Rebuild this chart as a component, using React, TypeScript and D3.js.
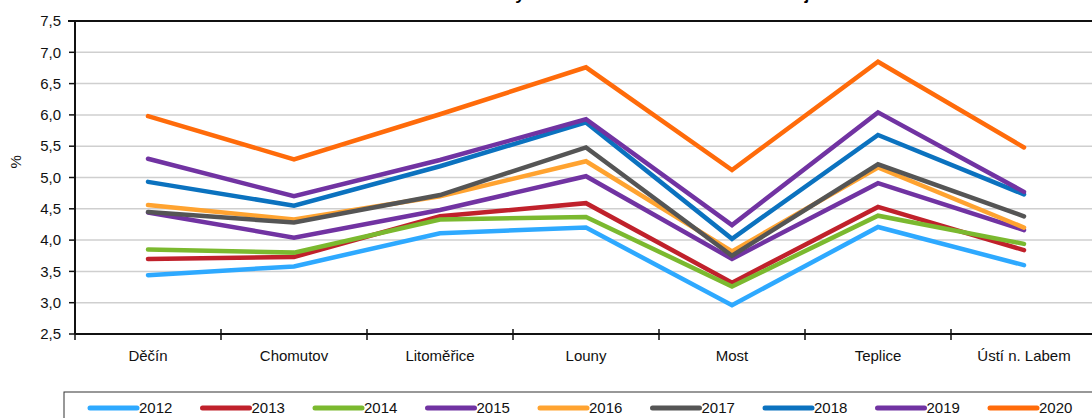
import React from 'react';
import * as d3 from 'd3';

const districts = ['Děčín', 'Chomutov', 'Litoměřice', 'Louny', 'Most', 'Teplice', 'Ústí n. Labem'];
const years = ['2012', '2013', '2014', '2015', '2016', '2017', '2018', '2019', '2020'];
const colors = ['#2EA9FF', '#C0212B', '#7BB92F', '#7133A2', '#FFA330', '#555555', '#0B72BF', '#7133A2', '#FF6B0A'];

const v2012 = [3.44, 3.58, 4.11, 4.20, 2.96, 4.21, 3.60];
const v2013 = [3.70, 3.73, 4.38, 4.59, 3.32, 4.53, 3.84];
const v2014 = [3.85, 3.80, 4.33, 4.37, 3.26, 4.39, 3.94];
const v2015 = [4.44, 4.04, 4.48, 5.02, 3.70, 4.91, 4.16];
const v2016 = [4.56, 4.33, 4.70, 5.26, 3.82, 5.16, 4.20];
const v2017 = [4.45, 4.28, 4.72, 5.48, 3.75, 5.21, 4.38];
const v2018 = [4.93, 4.55, 5.18, 5.88, 4.02, 5.68, 4.73];
const v2019 = [5.30, 4.70, 5.28, 5.93, 4.24, 6.04, 4.77];
const v2020 = [5.98, 5.29, 6.01, 6.76, 5.12, 6.85, 5.48];
const series = [v2012, v2013, v2014, v2015, v2016, v2017, v2018, v2019, v2020];

const yTicks = [2.5, 3, 3.5, 4, 4.5, 5, 5.5, 6, 6.5, 7, 7.5];

const W = 1092;
const H = 418;
const font = '"Liberation Sans", Arial, sans-serif';

export default function App() {
  // plot area runs past the right edge like in the original
  const x = d3.scaleBand().domain(districts).range([75, 1097]);
  const y = d3.scaleLinear().domain([2.5, 7.5]).range([334, 21]);
  const cx = (d: string) => (x(d) as number) + x.bandwidth() / 2;

  const line = d3.line<number>()
    .x((_, i) => cx(districts[i]))
    .y(v => y(v));

  const fmt = (v: number) => v.toFixed(1).replace('.', ',');
  const legendX = d3.scaleLinear().domain([0, 8]).range([90, 990]);

  return (
    <svg width={W} height={H} style={{ position: 'absolute', left: 0, top: 0, background: '#fff' }}>
      {/* title is cropped at the top in the original, only descenders show */}
      <text x={590} y={0} textAnchor="middle" fontFamily={font} fontSize={17} fontWeight="bold">
        Podíl nezaměstnaných osob v okresech Ústeckého kraje
      </text>

      {/* gridlines */}
      {yTicks.slice(1, -1).map(t => (
        <line key={t} x1={75} x2={W} y1={y(t)} y2={y(t)} stroke="#cfcfcf" strokeWidth={1.5} />
      ))}
      <line x1={68} x2={W} y1={y(7.5)} y2={y(7.5)} stroke="#111" strokeWidth={2} />

      {/* y axis */}
      <line x1={75} x2={75} y1={y(7.5)} y2={y(2.5)} stroke="#111" strokeWidth={2} />
      {yTicks.map(t => (
        <g key={t}>
          <line x1={69} x2={75} y1={y(t)} y2={y(t)} stroke="#111" strokeWidth={1.5} />
          <text x={61} y={y(t)} dy="0.35em" textAnchor="end" fontFamily={font} fontSize={15} fill="#111">
            {fmt(t)}
          </text>
        </g>
      ))}
      <text transform={`translate(21,${y(5.25)}) rotate(-90)`} textAnchor="middle" fontFamily={font} fontSize={15} fill="#111">
        %
      </text>

      {/* x axis */}
      <line x1={75} x2={W} y1={y(2.5)} y2={y(2.5)} stroke="#111" strokeWidth={2} />
      {districts.map(d => (
        <g key={d}>
          <line x1={x(d)} x2={x(d)} y1={y(2.5) - 5} y2={y(2.5) + 6} stroke="#111" strokeWidth={1.5} />
          <text x={cx(d)} y={356} dy="0.35em" textAnchor="middle" fontFamily={font} fontSize={15} fill="#111">
            {d}
          </text>
        </g>
      ))}

      {/* series */}
      {series.map((s, i) => (
        <path key={years[i]} d={line(s) || ''} fill="none" stroke={colors[i]} strokeWidth={4.5}
          strokeLinejoin="miter" strokeLinecap="round" />
      ))}

      {/* legend */}
      <rect x={64} y={392} width={W} height={40} fill="#fff" stroke="#333" strokeWidth={1} />
      {years.map((yr, i) => (
        <g key={yr}>
          <line x1={legendX(i)} x2={legendX(i) + 47} y1={408} y2={408} stroke={colors[i]} strokeWidth={5} strokeLinecap="round" />
          <text x={legendX(i) + 49} y={408} dy="0.35em" fontFamily={font} fontSize={15} fill="#111">{yr}</text>
        </g>
      ))}
    </svg>
  );
}
